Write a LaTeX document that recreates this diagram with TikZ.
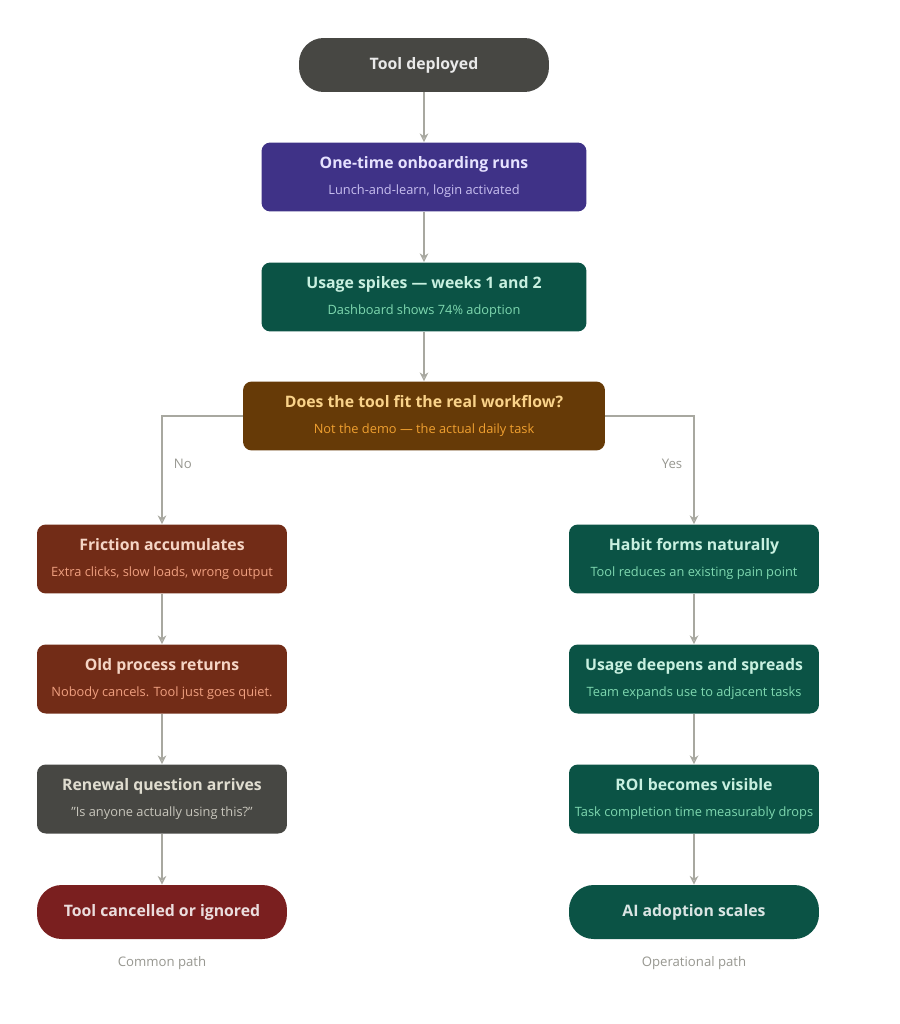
\documentclass[tikz,border=0pt]{standalone}
\usepackage{fontspec}
\setmainfont{Open Sans}
\usetikzlibrary{arrows.meta}
\definecolor{cgray}{HTML}{474743}
\definecolor{cpurple}{HTML}{3F3287}
\definecolor{cteal}{HTML}{0B5345}
\definecolor{cbrown}{HTML}{663A07}
\definecolor{cred}{HTML}{722C17}
\definecolor{cdred}{HTML}{7A1F1F}
\definecolor{cline}{HTML}{A8A8A0}
\begin{document}
\begin{tikzpicture}[x=0.02cm,y=-0.02cm,
 box/.style={rounded corners=5pt,minimum width=6.5cm,minimum height=1.38cm,align=center,inner sep=0pt},
 wide/.style={minimum width=7.24cm},
 side/.style={minimum width=5cm},
 pill/.style={rounded corners=14pt,minimum width=5cm,minimum height=1.08cm,font=\fontsize{9}{11}\selectfont\bfseries},
 arr/.style={draw=cline,line width=0.8pt,-{Stealth[length=5pt,width=5pt,open]}},
 lab/.style={text=cline!90!black,font=\fontsize{7.5}{9}\selectfont}]
\useasboundingbox (0,0) rectangle (899,1024);
\node[pill,fill=cgray,text=white!88!cgray] (a) at (424,65) {Tool deployed};
\node[box,fill=cpurple] (b) at (424,177) {{\fontsize{9}{11}\selectfont\bfseries\color[HTML]{E6E2FF}One-time onboarding runs}\\[3pt]{\fontsize{7.3}{9}\selectfont\color[HTML]{C8C0F0}Lunch-and-learn, login activated}};
\node[box,fill=cteal] (c) at (424,297) {{\fontsize{9}{11}\selectfont\bfseries\color[HTML]{C8F0E0}Usage spikes — weeks 1 and 2}\\[3pt]{\fontsize{7.3}{9}\selectfont\color[HTML]{7FD8B0}Dashboard shows 74\% adoption}};
\node[box,wide,fill=cbrown] (d) at (424,416) {{\fontsize{9}{11}\selectfont\bfseries\color[HTML]{FAD38A}Does the tool fit the real workflow?}\\[3pt]{\fontsize{7.3}{9}\selectfont\color[HTML]{F0A030}Not the demo — the actual daily task}};
\node[box,side,fill=cred] (l1) at (162,559) {{\fontsize{9}{11}\selectfont\bfseries\color[HTML]{F5D5C5}Friction accumulates}\\[3pt]{\fontsize{7.3}{9}\selectfont\color[HTML]{F0A080}Extra clicks, slow loads, wrong output}};
\node[box,side,fill=cred] (l2) at (162,679) {{\fontsize{9}{11}\selectfont\bfseries\color[HTML]{F5D5C5}Old process returns}\\[3pt]{\fontsize{7.3}{9}\selectfont\color[HTML]{F0A080}Nobody cancels. Tool just goes quiet.}};
\node[box,side,fill=cgray] (l3) at (162,799) {{\fontsize{9}{11}\selectfont\bfseries\color[HTML]{E0DDD0}Renewal question arrives}\\[3pt]{\fontsize{7.3}{9}\selectfont\color[HTML]{C8C6BC}"Is anyone actually using this?"}};
\node[pill,fill=cdred,text=white!85!cdred] (l4) at (162,912) {Tool cancelled or ignored};
\node[box,side,fill=cteal] (r1) at (694,559) {{\fontsize{9}{11}\selectfont\bfseries\color[HTML]{C8F0E0}Habit forms naturally}\\[3pt]{\fontsize{7.3}{9}\selectfont\color[HTML]{7FD8B0}Tool reduces an existing pain point}};
\node[box,side,fill=cteal] (r2) at (694,679) {{\fontsize{9}{11}\selectfont\bfseries\color[HTML]{C8F0E0}Usage deepens and spreads}\\[3pt]{\fontsize{7.3}{9}\selectfont\color[HTML]{7FD8B0}Team expands use to adjacent tasks}};
\node[box,side,fill=cteal] (r3) at (694,799) {{\fontsize{9}{11}\selectfont\bfseries\color[HTML]{C8F0E0}ROI becomes visible}\\[3pt]{\fontsize{7.3}{9}\selectfont\color[HTML]{7FD8B0}Task completion time measurably drops}};
\node[pill,fill=cteal,text=white!85!cteal] (r4) at (694,912) {AI adoption scales};
\node[lab] (cp) at (162,963) {Common path};
\node[lab] (op) at (694,963) {Operational path};
\draw[arr] (a) -- (b);
\draw[arr] (b) -- (c);
\draw[arr] (c) -- (d);
\draw[arr] (d.west) -| node[lab,pos=0.72,right=3pt]{No} (l1.north);
\draw[arr] (d.east) -| node[lab,pos=0.72,left=3pt]{Yes} (r1.north);
\draw[arr] (l1) -- (l2);
\draw[arr] (l2) -- (l3);
\draw[arr] (l3) -- (l4);
\draw[arr] (r1) -- (r2);
\draw[arr] (r2) -- (r3);
\draw[arr] (r3) -- (r4);
\end{tikzpicture}
\end{document}
